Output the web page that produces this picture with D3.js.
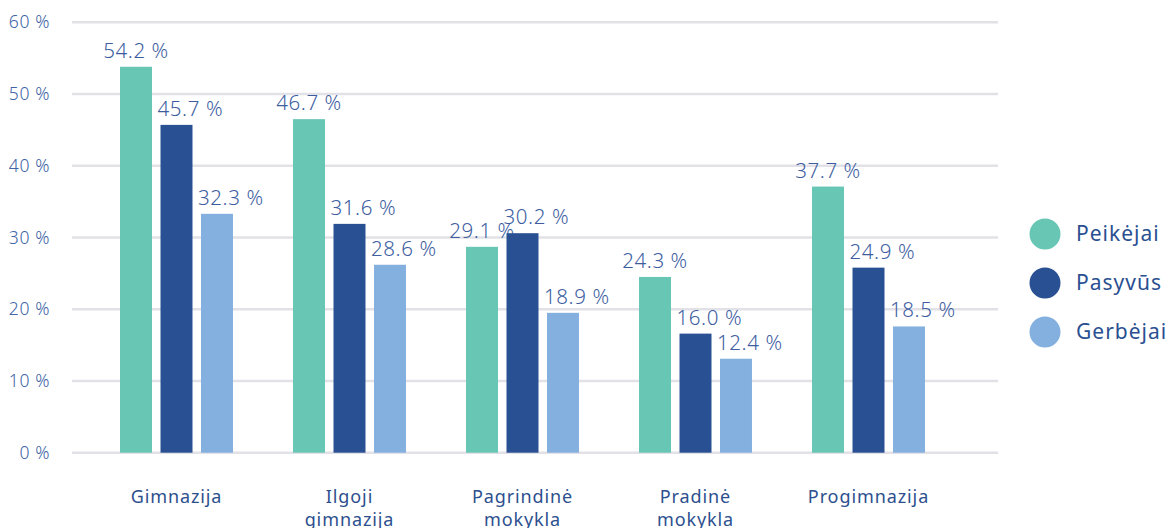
<!DOCTYPE html>
<html>
<head>
<meta charset="utf-8">
<script src="https://cdn.jsdelivr.net/npm/d3@7"></script>
<style>
  body { margin: 0; background: #fff; }
  svg text { font-family: "Noto Sans", "Open Sans", sans-serif; }
</style>
</head>
<body>
<svg id="chart" width="1168" height="528"></svg>
<script>
// categories (school types), label lines split for wrapping
var categories = ["Gimnazija", "Ilgoji gimnazija", "Pagrindinė mokykla", "Pradinė mokykla", "Progimnazija"];
var categoryLines = [["Gimnazija"], ["Ilgoji", "gimnazija"], ["Pagrindinė", "mokykla"], ["Pradinė", "mokykla"], ["Progimnazija"]];
var seriesNames = ["Peikėjai", "Pasyvūs", "Gerbėjai"];

// bar heights as drawn in the picture
var peikejai = [53.8, 46.5, 28.7, 24.5, 37.1];
var pasyvus  = [45.7, 31.9, 30.6, 16.6, 25.8];
var gerbejai = [33.3, 26.2, 19.5, 13.1, 17.6];

// printed data labels
var peikejaiLabels = ["54.2 %", "46.7 %", "29.1 %", "24.3 %", "37.7 %"];
var pasyvusLabels  = ["45.7 %", "31.6 %", "30.2 %", "16.0 %", "24.9 %"];
var gerbejaiLabels = ["32.3 %", "28.6 %", "18.9 %", "12.4 %", "18.5 %"];

var yTicks = [0, 10, 20, 30, 40, 50, 60];

var colors = ["#68c6b5", "#285093", "#84b0df"];
var series = [peikejai, pasyvus, gerbejai];
var seriesLabels = [peikejaiLabels, pasyvusLabels, gerbejaiLabels];

var svg = d3.select("#chart");

var x0 = d3.scaleBand()
  .domain(categories)
  .range([90, 955])
  .paddingInner(0.347)
  .paddingOuter(0.1735);

var x1 = d3.scaleBand()
  .domain(seriesNames)
  .range([0, x0.bandwidth()])
  .paddingInner(0.21);

var y = d3.scaleLinear()
  .domain([0, 60])
  .range([452.7, 22.3]);

// grid lines
svg.append("g")
  .selectAll("line")
  .data(yTicks)
  .join("line")
    .attr("x1", 72)
    .attr("x2", 998)
    .attr("y1", d => y(d))
    .attr("y2", d => y(d))
    .attr("stroke", "#e1e1e7")
    .attr("stroke-width", 2.5);

// y axis labels
var yAxis = svg.append("g")
  .attr("transform", "translate(50,0)")
  .call(d3.axisLeft(y).tickValues(yTicks).tickSize(0).tickPadding(0).tickFormat(d => d + " %"));
yAxis.select(".domain").remove();
yAxis.selectAll("text")
  .attr("fill", "#4064a5")
  .attr("font-size", 17.5)
  .attr("letter-spacing", 0.6)
  .attr("font-weight", 300)
  .attr("font-family", "'Noto Sans', sans-serif");

// bars
var groups = svg.append("g")
  .selectAll("g")
  .data(categories)
  .join("g")
    .attr("transform", d => "translate(" + x0(d) + ",0)");

groups.each(function(cat, ci) {
  var g = d3.select(this);
  seriesNames.forEach(function(name, si) {
    var v = series[si][ci];
    g.append("rect")
      .attr("x", x1(name))
      .attr("y", y(v))
      .attr("width", x1.bandwidth())
      .attr("height", y(0) - y(v))
      .attr("fill", colors[si]);
    // first label centred, the others start at the bar's left edge
    var lx = si == 0 ? x1(name) + x1.bandwidth() / 2 : x1(name) - 3;
    g.append("text")
      .attr("x", lx)
      .attr("y", y(v) - 9)
      .attr("text-anchor", si == 0 ? "middle" : "start")
      .attr("fill", "#3d5d9f")
      .attr("font-size", 20.5)
      .attr("letter-spacing", 0.6)
      .attr("font-weight", 300)
      .text(seriesLabels[si][ci]);
  });
});

// category labels
var xLabels = svg.append("g")
  .selectAll("text")
  .data(categories)
  .join("text")
    .attr("x", d => x0(d) + x0.bandwidth() / 2)
    .attr("y", 503)
    .attr("text-anchor", "middle")
    .attr("fill", "#2d4f8e")
    .attr("font-size", 18)
    .attr("letter-spacing", 0.9);
xLabels.each(function(d, i) {
  var t = d3.select(this);
  categoryLines[i].forEach(function(line, li) {
    t.append("tspan")
      .attr("x", x0(d) + x0.bandwidth() / 2)
      .attr("dy", li == 0 ? 0 : 23)
      .text(line);
  });
});

// legend
var legend = svg.append("g")
  .selectAll("g")
  .data(seriesNames)
  .join("g")
    .attr("transform", (d, i) => "translate(1045," + (234 + i * 49) + ")");
legend.append("circle")
  .attr("r", 15.5)
  .attr("fill", (d, i) => colors[i]);
legend.append("text")
  .attr("x", 31)
  .attr("dy", "0.35em")
  .attr("fill", "#2a4f91")
  .attr("font-size", 21)
  .attr("letter-spacing", 1)
  .text(d => d);
</script>
</body>
</html>
